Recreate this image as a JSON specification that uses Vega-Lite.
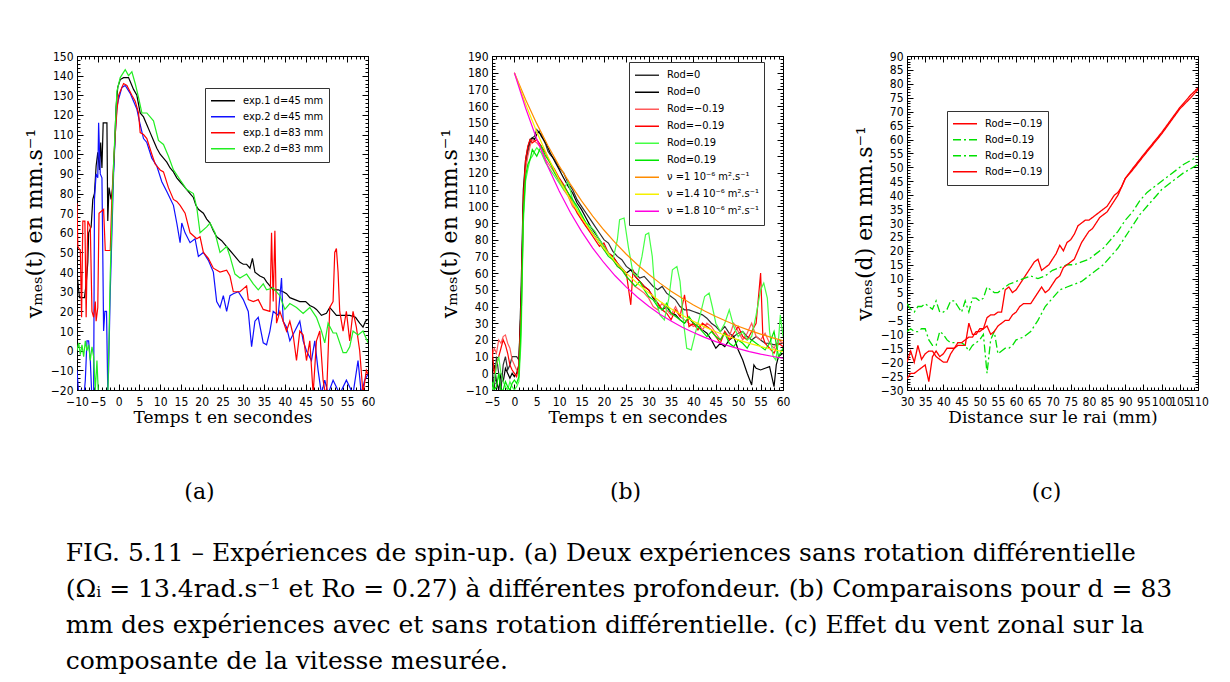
{
"$schema":"https://vega.github.io/schema/vega-lite/v6.json",
"background":"white",
"padding":{"left":22,"top":49,"right":5,"bottom":5},
"resolve":{"scale":{"color":"independent","strokeDash":"independent"},"legend":{"color":"independent","strokeDash":"independent"}},
"title":{"text":["FIG. 5.11 – Expériences de spin-up. (a) Deux expériences sans rotation différentielle","(Ωᵢ = 13.4rad.s⁻¹ et Ro = 0.27) à différentes profondeur. (b) Comparaisons pour d = 83","mm des expériences avec et sans rotation différentielle. (c) Effet du vent zonal sur la","composante de la vitesse mesurée."],"orient":"bottom","anchor":"start","frame":"bounds","font":"DejaVu Serif","fontSize":25,"fontWeight":"normal","lineHeight":36,"offset":37,"dx":43,"color":"black"},
"config":{
"view":{"stroke":"black","strokeWidth":1},
"axis":{"grid":false,"domain":false,"labelFont":"Liberation Sans Narrow, DejaVu Sans Condensed, sans-serif","labelFontSize":12,"labelColor":"black","tickColor":"black","tickWidth":1,"titleFont":"DejaVu Serif","titleFontWeight":"normal","titleColor":"black","labelOverlap":false,"labelFlush":false,"labelBound":false},
"legend":{"labelFont":"Liberation Sans Narrow, DejaVu Sans Condensed, sans-serif","labelFontSize":11,"labelColor":"black","strokeColor":"#333333","fillColor":"white","symbolType":"stroke","symbolSize":576,"symbolStrokeWidth":1.5,"rowPadding":0,"clipHeight":15.5,"padding":5,"labelOffset":7}
},
"datasets":{
"a":[
{"s":"k","t":-10,"v":39},{"s":"k","t":-9.4,"v":27},{"s":"k","t":-8.2,"v":27},{"s":"k","t":-7.8,"v":34},{"s":"k","t":-7.4,"v":45},{"s":"k","t":-7.2,"v":60},{"s":"k","t":-6.6,"v":63},{"s":"k","t":-6.2,"v":77},{"s":"k","t":-5.8,"v":80},{"s":"k","t":-5.4,"v":94},{"s":"k","t":-5,"v":101},{"s":"k","t":-4.6,"v":92},{"s":"k","t":-4.3,"v":106},{"s":"k","t":-4,"v":93},{"s":"k","t":-3.7,"v":116},{"s":"k","t":-2.8,"v":116},{"s":"k","t":-2.6,"v":66},{"s":"k","t":-2.3,"v":83},{"s":"k","t":-1.8,"v":77},{"s":"k","t":-1.4,"v":83},{"s":"k","t":-1,"v":102},{"s":"k","t":-0.6,"v":124},{"s":"k","t":-0.2,"v":134},{"s":"k","t":0.4,"v":138},{"s":"k","t":1.2,"v":139},{"s":"k","t":2.4,"v":139},{"s":"k","t":3,"v":136},{"s":"k","t":3.6,"v":133},{"s":"k","t":4.4,"v":130},{"s":"k","t":5.2,"v":121},{"s":"k","t":6,"v":119},{"s":"k","t":6.8,"v":115},{"s":"k","t":7.6,"v":111},{"s":"k","t":8.4,"v":107},{"s":"k","t":9.2,"v":103},{"s":"k","t":10,"v":100},{"s":"k","t":10.8,"v":98},{"s":"k","t":11.6,"v":96},{"s":"k","t":12.4,"v":93},{"s":"k","t":13.2,"v":91},{"s":"k","t":14,"v":88},{"s":"k","t":14.8,"v":86},{"s":"k","t":15.6,"v":84},{"s":"k","t":16.4,"v":82},{"s":"k","t":17.2,"v":80},{"s":"k","t":18,"v":78},{"s":"k","t":18.6,"v":74},{"s":"k","t":19.2,"v":72},{"s":"k","t":20.4,"v":70},{"s":"k","t":21.2,"v":67},{"s":"k","t":22,"v":65},{"s":"k","t":22.8,"v":61},{"s":"k","t":23.6,"v":58},{"s":"k","t":24.8,"v":56},{"s":"k","t":26,"v":53},{"s":"k","t":26.8,"v":51},{"s":"k","t":27.6,"v":49},{"s":"k","t":28.4,"v":47},{"s":"k","t":29.2,"v":45},{"s":"k","t":30,"v":44},{"s":"k","t":30.8,"v":44},{"s":"k","t":31.6,"v":42},{"s":"k","t":32.2,"v":47},{"s":"k","t":32.8,"v":40},{"s":"k","t":34,"v":38},{"s":"k","t":35,"v":37},{"s":"k","t":35.6,"v":35},{"s":"k","t":36.4,"v":33},{"s":"k","t":37.2,"v":31},{"s":"k","t":38.4,"v":31},{"s":"k","t":39.6,"v":30},{"s":"k","t":40.4,"v":29},{"s":"k","t":41.2,"v":27},{"s":"k","t":42.4,"v":26},{"s":"k","t":43.6,"v":25},{"s":"k","t":45,"v":25},{"s":"k","t":46,"v":23},{"s":"k","t":47,"v":22},{"s":"k","t":47.6,"v":21},{"s":"k","t":48.8,"v":18},{"s":"k","t":50,"v":19},{"s":"k","t":50.8,"v":22},{"s":"k","t":51.6,"v":20},{"s":"k","t":52.4,"v":18},{"s":"k","t":54,"v":18},{"s":"k","t":55.6,"v":18},{"s":"k","t":57,"v":17},{"s":"k","t":58,"v":14},{"s":"k","t":58.8,"v":12},{"s":"k","t":59.4,"v":15},{"s":"k","t":60,"v":16},
{"s":"b","t":-10,"v":-10},{"s":"b","t":-9.6,"v":-22},{"s":"b","t":-9,"v":-20},{"s":"b","t":-8.4,"v":-25},{"s":"b","t":-8,"v":-15},{"s":"b","t":-7.6,"v":5},{"s":"b","t":-7.2,"v":5},{"s":"b","t":-6.8,"v":-5},{"s":"b","t":-6.4,"v":-25},{"s":"b","t":-6,"v":-25},{"s":"b","t":-5.8,"v":77},{"s":"b","t":-5.4,"v":90},{"s":"b","t":-5,"v":88},{"s":"b","t":-4.8,"v":116},{"s":"b","t":-4.6,"v":102},{"s":"b","t":-4.4,"v":90},{"s":"b","t":-4,"v":88},{"s":"b","t":-3.8,"v":50},{"s":"b","t":-3.6,"v":10},{"s":"b","t":-3.3,"v":20},{"s":"b","t":-2.9,"v":20},{"s":"b","t":-2.6,"v":-20},{"s":"b","t":-2.4,"v":-10},{"s":"b","t":-2,"v":30},{"s":"b","t":-1.6,"v":60},{"s":"b","t":-1.2,"v":90},{"s":"b","t":-0.8,"v":110},{"s":"b","t":-0.4,"v":124},{"s":"b","t":0,"v":128},{"s":"b","t":0.8,"v":134},{"s":"b","t":1.6,"v":135},{"s":"b","t":2.8,"v":131},{"s":"b","t":3.6,"v":127},{"s":"b","t":4.4,"v":123},{"s":"b","t":5.2,"v":115},{"s":"b","t":6,"v":108},{"s":"b","t":6.8,"v":106},{"s":"b","t":8,"v":98},{"s":"b","t":9.2,"v":94},{"s":"b","t":10.4,"v":86},{"s":"b","t":11.6,"v":81},{"s":"b","t":13.2,"v":74},{"s":"b","t":14,"v":65},{"s":"b","t":14.8,"v":55},{"s":"b","t":15.2,"v":65},{"s":"b","t":16,"v":60},{"s":"b","t":17.2,"v":55},{"s":"b","t":18.4,"v":57},{"s":"b","t":19.2,"v":48},{"s":"b","t":20.4,"v":50},{"s":"b","t":21.6,"v":46},{"s":"b","t":22.8,"v":40},{"s":"b","t":23.6,"v":25},{"s":"b","t":24.4,"v":22},{"s":"b","t":25.2,"v":28},{"s":"b","t":26,"v":20},{"s":"b","t":26.8,"v":28},{"s":"b","t":27.6,"v":29},{"s":"b","t":28.8,"v":30},{"s":"b","t":30,"v":26},{"s":"b","t":31.2,"v":20},{"s":"b","t":32,"v":2},{"s":"b","t":32.8,"v":15},{"s":"b","t":33.6,"v":17},{"s":"b","t":34.8,"v":4},{"s":"b","t":35.6,"v":3},{"s":"b","t":36.4,"v":10},{"s":"b","t":37.2,"v":20},{"s":"b","t":38.4,"v":18},{"s":"b","t":39.2,"v":37},{"s":"b","t":39.6,"v":15},{"s":"b","t":40.4,"v":12},{"s":"b","t":41.2,"v":5},{"s":"b","t":42.4,"v":10},{"s":"b","t":43.6,"v":15},{"s":"b","t":44.4,"v":5},{"s":"b","t":45.2,"v":0},{"s":"b","t":46.4,"v":-5},{"s":"b","t":47.2,"v":5},{"s":"b","t":48,"v":-10},{"s":"b","t":48.8,"v":-22},{"s":"b","t":49.6,"v":-15},{"s":"b","t":50.4,"v":-22},{"s":"b","t":51.6,"v":-15},{"s":"b","t":53.2,"v":-22},{"s":"b","t":54.8,"v":-15},{"s":"b","t":56.4,"v":-22},{"s":"b","t":57.6,"v":-5},{"s":"b","t":58.4,"v":-22},{"s":"b","t":59.2,"v":-15},{"s":"b","t":60,"v":-12},
{"s":"r","t":-10,"v":75},{"s":"r","t":-9.8,"v":53},{"s":"r","t":-9.2,"v":51},{"s":"r","t":-8.9,"v":17},{"s":"r","t":-8.6,"v":66},{"s":"r","t":-8.1,"v":66},{"s":"r","t":-7.8,"v":17},{"s":"r","t":-7.4,"v":66},{"s":"r","t":-6.8,"v":63},{"s":"r","t":-6.4,"v":20},{"s":"r","t":-6,"v":17},{"s":"r","t":-5.6,"v":25},{"s":"r","t":-5.4,"v":15},{"s":"r","t":-5,"v":22},{"s":"r","t":-4.7,"v":70},{"s":"r","t":-3.6,"v":72},{"s":"r","t":-3.2,"v":51},{"s":"r","t":-2,"v":51},{"s":"r","t":-1.6,"v":78},{"s":"r","t":-1.2,"v":95},{"s":"r","t":-0.8,"v":110},{"s":"r","t":-0.4,"v":122},{"s":"r","t":0,"v":130},{"s":"r","t":1.2,"v":136},{"s":"r","t":2,"v":135},{"s":"r","t":3.2,"v":130},{"s":"r","t":4,"v":127},{"s":"r","t":4.8,"v":121},{"s":"r","t":5.2,"v":111},{"s":"r","t":6,"v":110},{"s":"r","t":6.8,"v":108},{"s":"r","t":8,"v":100},{"s":"r","t":8.8,"v":95},{"s":"r","t":10,"v":92},{"s":"r","t":10.8,"v":91},{"s":"r","t":12,"v":83},{"s":"r","t":13.2,"v":77},{"s":"r","t":14,"v":76},{"s":"r","t":14.8,"v":74},{"s":"r","t":16,"v":70},{"s":"r","t":17.2,"v":60},{"s":"r","t":18.8,"v":57},{"s":"r","t":19.6,"v":58},{"s":"r","t":20.4,"v":50},{"s":"r","t":21.6,"v":47},{"s":"r","t":22.8,"v":42},{"s":"r","t":24.4,"v":40},{"s":"r","t":26,"v":41},{"s":"r","t":26.8,"v":38},{"s":"r","t":27.6,"v":30},{"s":"r","t":29.2,"v":30},{"s":"r","t":30.8,"v":33},{"s":"r","t":31.2,"v":26},{"s":"r","t":32.4,"v":25},{"s":"r","t":33.6,"v":26},{"s":"r","t":34.8,"v":21},{"s":"r","t":36.4,"v":20},{"s":"r","t":36.8,"v":60},{"s":"r","t":37.2,"v":25},{"s":"r","t":37.6,"v":61},{"s":"r","t":38,"v":14},{"s":"r","t":38.8,"v":20},{"s":"r","t":39.6,"v":15},{"s":"r","t":40.4,"v":10},{"s":"r","t":41.2,"v":15},{"s":"r","t":42,"v":8},{"s":"r","t":42.8,"v":-5},{"s":"r","t":43.6,"v":10},{"s":"r","t":44.4,"v":8},{"s":"r","t":45.2,"v":-5},{"s":"r","t":46,"v":5},{"s":"r","t":46.8,"v":-22},{"s":"r","t":47.6,"v":5},{"s":"r","t":48.4,"v":10},{"s":"r","t":49.2,"v":-15},{"s":"r","t":50,"v":-25},{"s":"r","t":50.8,"v":22},{"s":"r","t":51.6,"v":25},{"s":"r","t":52,"v":50},{"s":"r","t":52.4,"v":52},{"s":"r","t":52.8,"v":40},{"s":"r","t":53.2,"v":20},{"s":"r","t":54,"v":10},{"s":"r","t":54.8,"v":20},{"s":"r","t":55.6,"v":5},{"s":"r","t":56.4,"v":20},{"s":"r","t":57.2,"v":12},{"s":"r","t":58,"v":0},{"s":"r","t":58.8,"v":-22},{"s":"r","t":59.6,"v":-10},{"s":"r","t":60,"v":-12},
{"s":"g","t":-10,"v":0},{"s":"g","t":-9.6,"v":4},{"s":"g","t":-9.2,"v":-2},{"s":"g","t":-8.8,"v":3},{"s":"g","t":-8.4,"v":-3},{"s":"g","t":-8,"v":5},{"s":"g","t":-7.6,"v":0},{"s":"g","t":-7.2,"v":3},{"s":"g","t":-6.8,"v":-5},{"s":"g","t":-6.4,"v":2},{"s":"g","t":-6,"v":-3},{"s":"g","t":-5.6,"v":-20},{"s":"g","t":-5.2,"v":-5},{"s":"g","t":-4.8,"v":-25},{"s":"g","t":-2.6,"v":-25},{"s":"g","t":-2,"v":39},{"s":"g","t":-1.2,"v":95},{"s":"g","t":-0.4,"v":132},{"s":"g","t":0.4,"v":139},{"s":"g","t":1.6,"v":143},{"s":"g","t":2.4,"v":140},{"s":"g","t":3.2,"v":142},{"s":"g","t":4,"v":136},{"s":"g","t":4.8,"v":129},{"s":"g","t":5.6,"v":121},{"s":"g","t":6.8,"v":121},{"s":"g","t":8.4,"v":117},{"s":"g","t":9.6,"v":107},{"s":"g","t":10.8,"v":105},{"s":"g","t":12,"v":99},{"s":"g","t":13.2,"v":92},{"s":"g","t":14.8,"v":87},{"s":"g","t":16.4,"v":82},{"s":"g","t":18,"v":80},{"s":"g","t":18.8,"v":73},{"s":"g","t":19.6,"v":60},{"s":"g","t":21.2,"v":63},{"s":"g","t":22,"v":65},{"s":"g","t":23.2,"v":60},{"s":"g","t":24.4,"v":50},{"s":"g","t":26,"v":53},{"s":"g","t":26.8,"v":48},{"s":"g","t":28,"v":39},{"s":"g","t":29.2,"v":37},{"s":"g","t":30.8,"v":39},{"s":"g","t":32.4,"v":34},{"s":"g","t":33.6,"v":31},{"s":"g","t":34.8,"v":34},{"s":"g","t":35.6,"v":31},{"s":"g","t":37.2,"v":32},{"s":"g","t":38.8,"v":28},{"s":"g","t":40,"v":21},{"s":"g","t":41.2,"v":24},{"s":"g","t":42.8,"v":22},{"s":"g","t":44.4,"v":19},{"s":"g","t":46,"v":22},{"s":"g","t":47.6,"v":17},{"s":"g","t":48.8,"v":10},{"s":"g","t":49.6,"v":4},{"s":"g","t":50.4,"v":14},{"s":"g","t":51.6,"v":9},{"s":"g","t":52.4,"v":9},{"s":"g","t":54,"v":-1},{"s":"g","t":54.8,"v":-1},{"s":"g","t":55.6,"v":2},{"s":"g","t":56.4,"v":10},{"s":"g","t":57.6,"v":8},{"s":"g","t":58.8,"v":10},{"s":"g","t":60,"v":4}
],
"b":[
{"s":"k1","t":-5,"v":5},{"s":"k1","t":-4.5,"v":-10},{"s":"k1","t":-4,"v":10},{"s":"k1","t":-3.5,"v":0},{"s":"k1","t":-3,"v":-10},{"s":"k1","t":-2.5,"v":5},{"s":"k1","t":-2,"v":10},{"s":"k1","t":-1.5,"v":2},{"s":"k1","t":-1,"v":5},{"s":"k1","t":-0.5,"v":10},{"s":"k1","t":0,"v":10},{"s":"k1","t":0.5,"v":10},{"s":"k1","t":1,"v":8},{"s":"k1","t":1.5,"v":40},{"s":"k1","t":2,"v":100},{"s":"k1","t":2.5,"v":125},{"s":"k1","t":3,"v":132},{"s":"k1","t":3.5,"v":138},{"s":"k1","t":4,"v":141},{"s":"k1","t":4.5,"v":142},{"s":"k1","t":5,"v":146},{"s":"k1","t":5.5,"v":144},{"s":"k1","t":6,"v":143},{"s":"k1","t":6.5,"v":140},{"s":"k1","t":7,"v":137},{"s":"k1","t":7.5,"v":133},{"s":"k1","t":8,"v":131},{"s":"k1","t":9,"v":128},{"s":"k1","t":10,"v":123},{"s":"k1","t":11,"v":120},{"s":"k1","t":12,"v":114},{"s":"k1","t":13,"v":110},{"s":"k1","t":14,"v":104},{"s":"k1","t":15,"v":100},{"s":"k1","t":16,"v":96},{"s":"k1","t":17,"v":92},{"s":"k1","t":18,"v":88},{"s":"k1","t":19,"v":84},{"s":"k1","t":20,"v":80},{"s":"k1","t":21,"v":78},{"s":"k1","t":22,"v":73},{"s":"k1","t":23,"v":70},{"s":"k1","t":24,"v":68},{"s":"k1","t":25,"v":64},{"s":"k1","t":26,"v":62},{"s":"k1","t":27,"v":60},{"s":"k1","t":28,"v":57},{"s":"k1","t":29,"v":58},{"s":"k1","t":30,"v":55},{"s":"k1","t":31,"v":52},{"s":"k1","t":32,"v":50},{"s":"k1","t":33,"v":52},{"s":"k1","t":34,"v":48},{"s":"k1","t":35,"v":46},{"s":"k1","t":36,"v":44},{"s":"k1","t":37,"v":40},{"s":"k1","t":38,"v":38},{"s":"k1","t":39,"v":38},{"s":"k1","t":40,"v":37},{"s":"k1","t":41,"v":36},{"s":"k1","t":42,"v":35},{"s":"k1","t":43,"v":33},{"s":"k1","t":44,"v":30},{"s":"k1","t":45,"v":28},{"s":"k1","t":46,"v":25},{"s":"k1","t":47,"v":28},{"s":"k1","t":48,"v":24},{"s":"k1","t":49,"v":22},{"s":"k1","t":50,"v":24},{"s":"k1","t":51,"v":25},{"s":"k1","t":52,"v":22},{"s":"k1","t":53,"v":20},{"s":"k1","t":54,"v":22},{"s":"k1","t":55,"v":20},{"s":"k1","t":56,"v":18},{"s":"k1","t":57,"v":18},{"s":"k1","t":58,"v":17},{"s":"k1","t":59,"v":18},{"s":"k1","t":60,"v":18},
{"s":"k2","t":-5,"v":0},{"s":"k2","t":-4.5,"v":5},{"s":"k2","t":-4,"v":-5},{"s":"k2","t":-3.5,"v":-10},{"s":"k2","t":-3,"v":0},{"s":"k2","t":-2.5,"v":-5},{"s":"k2","t":-2,"v":3},{"s":"k2","t":-1.5,"v":0},{"s":"k2","t":-1,"v":-3},{"s":"k2","t":-0.5,"v":0},{"s":"k2","t":0,"v":-2},{"s":"k2","t":0.5,"v":0},{"s":"k2","t":1,"v":5},{"s":"k2","t":1.5,"v":50},{"s":"k2","t":2,"v":110},{"s":"k2","t":2.5,"v":128},{"s":"k2","t":3,"v":135},{"s":"k2","t":3.5,"v":140},{"s":"k2","t":4,"v":141},{"s":"k2","t":4.5,"v":140},{"s":"k2","t":5,"v":143},{"s":"k2","t":5.5,"v":145},{"s":"k2","t":6,"v":142},{"s":"k2","t":7,"v":138},{"s":"k2","t":8,"v":132},{"s":"k2","t":9,"v":127},{"s":"k2","t":10,"v":122},{"s":"k2","t":11,"v":117},{"s":"k2","t":12,"v":112},{"s":"k2","t":13,"v":108},{"s":"k2","t":14,"v":102},{"s":"k2","t":15,"v":98},{"s":"k2","t":16,"v":93},{"s":"k2","t":17,"v":88},{"s":"k2","t":18,"v":84},{"s":"k2","t":19,"v":80},{"s":"k2","t":20,"v":76},{"s":"k2","t":21,"v":72},{"s":"k2","t":22,"v":70},{"s":"k2","t":23,"v":66},{"s":"k2","t":24,"v":63},{"s":"k2","t":25,"v":60},{"s":"k2","t":26,"v":62},{"s":"k2","t":27,"v":58},{"s":"k2","t":28,"v":55},{"s":"k2","t":29,"v":52},{"s":"k2","t":30,"v":50},{"s":"k2","t":31,"v":45},{"s":"k2","t":32,"v":42},{"s":"k2","t":33,"v":38},{"s":"k2","t":34,"v":40},{"s":"k2","t":35,"v":36},{"s":"k2","t":36,"v":35},{"s":"k2","t":37,"v":32},{"s":"k2","t":38,"v":30},{"s":"k2","t":39,"v":33},{"s":"k2","t":40,"v":30},{"s":"k2","t":41,"v":28},{"s":"k2","t":42,"v":26},{"s":"k2","t":43,"v":24},{"s":"k2","t":44,"v":20},{"s":"k2","t":45,"v":15},{"s":"k2","t":46,"v":18},{"s":"k2","t":47,"v":16},{"s":"k2","t":48,"v":20},{"s":"k2","t":49,"v":22},{"s":"k2","t":50,"v":14},{"s":"k2","t":51,"v":8},{"s":"k2","t":52,"v":0},{"s":"k2","t":53,"v":-7},{"s":"k2","t":53.5,"v":5},{"s":"k2","t":54,"v":3},{"s":"k2","t":55,"v":2},{"s":"k2","t":56,"v":3},{"s":"k2","t":57,"v":4},{"s":"k2","t":58,"v":-8},{"s":"k2","t":58.5,"v":5},{"s":"k2","t":59,"v":10},{"s":"k2","t":60,"v":12},
{"s":"r1","t":-5,"v":10},{"s":"r1","t":-4.5,"v":15},{"s":"r1","t":-4,"v":12},{"s":"r1","t":-3.5,"v":20},{"s":"r1","t":-3,"v":18},{"s":"r1","t":-2.5,"v":22},{"s":"r1","t":-2,"v":23},{"s":"r1","t":-1.5,"v":18},{"s":"r1","t":-1,"v":15},{"s":"r1","t":-0.5,"v":8},{"s":"r1","t":0,"v":5},{"s":"r1","t":0.5,"v":2},{"s":"r1","t":1,"v":0},{"s":"r1","t":1.5,"v":30},{"s":"r1","t":2,"v":95},{"s":"r1","t":2.5,"v":122},{"s":"r1","t":3,"v":130},{"s":"r1","t":3.5,"v":136},{"s":"r1","t":4,"v":140},{"s":"r1","t":4.5,"v":139},{"s":"r1","t":5,"v":138},{"s":"r1","t":6,"v":135},{"s":"r1","t":7,"v":128},{"s":"r1","t":8,"v":124},{"s":"r1","t":9,"v":120},{"s":"r1","t":10,"v":115},{"s":"r1","t":11,"v":110},{"s":"r1","t":12,"v":106},{"s":"r1","t":13,"v":100},{"s":"r1","t":14,"v":97},{"s":"r1","t":15,"v":92},{"s":"r1","t":16,"v":88},{"s":"r1","t":17,"v":85},{"s":"r1","t":18,"v":82},{"s":"r1","t":19,"v":78},{"s":"r1","t":20,"v":74},{"s":"r1","t":21,"v":72},{"s":"r1","t":22,"v":68},{"s":"r1","t":23,"v":64},{"s":"r1","t":24,"v":62},{"s":"r1","t":25,"v":58},{"s":"r1","t":26,"v":55},{"s":"r1","t":27,"v":52},{"s":"r1","t":28,"v":50},{"s":"r1","t":29,"v":48},{"s":"r1","t":30,"v":45},{"s":"r1","t":31,"v":40},{"s":"r1","t":32,"v":38},{"s":"r1","t":33,"v":42},{"s":"r1","t":34,"v":38},{"s":"r1","t":35,"v":35},{"s":"r1","t":36,"v":40},{"s":"r1","t":37,"v":34},{"s":"r1","t":38,"v":32},{"s":"r1","t":39,"v":30},{"s":"r1","t":40,"v":28},{"s":"r1","t":41,"v":30},{"s":"r1","t":42,"v":26},{"s":"r1","t":43,"v":30},{"s":"r1","t":44,"v":28},{"s":"r1","t":45,"v":24},{"s":"r1","t":46,"v":20},{"s":"r1","t":47,"v":25},{"s":"r1","t":48,"v":22},{"s":"r1","t":49,"v":30},{"s":"r1","t":50,"v":25},{"s":"r1","t":51,"v":20},{"s":"r1","t":52,"v":24},{"s":"r1","t":53,"v":30},{"s":"r1","t":54,"v":22},{"s":"r1","t":55,"v":20},{"s":"r1","t":56,"v":24},{"s":"r1","t":57,"v":18},{"s":"r1","t":58,"v":15},{"s":"r1","t":59,"v":20},{"s":"r1","t":60,"v":18},
{"s":"r2","t":-5,"v":15},{"s":"r2","t":-4.5,"v":0},{"s":"r2","t":-4,"v":5},{"s":"r2","t":-3.5,"v":10},{"s":"r2","t":-3,"v":15},{"s":"r2","t":-2.5,"v":20},{"s":"r2","t":-2,"v":17},{"s":"r2","t":-1.5,"v":12},{"s":"r2","t":-1,"v":5},{"s":"r2","t":-0.5,"v":2},{"s":"r2","t":0,"v":0},{"s":"r2","t":0.5,"v":-2},{"s":"r2","t":1,"v":5},{"s":"r2","t":1.5,"v":40},{"s":"r2","t":2,"v":105},{"s":"r2","t":2.5,"v":128},{"s":"r2","t":3,"v":136},{"s":"r2","t":3.5,"v":140},{"s":"r2","t":4,"v":138},{"s":"r2","t":4.5,"v":139},{"s":"r2","t":5,"v":140},{"s":"r2","t":6,"v":136},{"s":"r2","t":7,"v":132},{"s":"r2","t":8,"v":126},{"s":"r2","t":9,"v":122},{"s":"r2","t":10,"v":117},{"s":"r2","t":11,"v":113},{"s":"r2","t":12,"v":108},{"s":"r2","t":13,"v":102},{"s":"r2","t":14,"v":96},{"s":"r2","t":15,"v":92},{"s":"r2","t":16,"v":88},{"s":"r2","t":17,"v":84},{"s":"r2","t":18,"v":80},{"s":"r2","t":19,"v":76},{"s":"r2","t":20,"v":78},{"s":"r2","t":21,"v":72},{"s":"r2","t":22,"v":70},{"s":"r2","t":23,"v":66},{"s":"r2","t":24,"v":62},{"s":"r2","t":25,"v":60},{"s":"r2","t":26,"v":41},{"s":"r2","t":26.5,"v":62},{"s":"r2","t":27,"v":58},{"s":"r2","t":28,"v":55},{"s":"r2","t":29,"v":52},{"s":"r2","t":30,"v":50},{"s":"r2","t":31,"v":46},{"s":"r2","t":32,"v":42},{"s":"r2","t":33,"v":38},{"s":"r2","t":34,"v":36},{"s":"r2","t":35,"v":32},{"s":"r2","t":36,"v":38},{"s":"r2","t":37,"v":34},{"s":"r2","t":38,"v":47},{"s":"r2","t":39,"v":28},{"s":"r2","t":40,"v":30},{"s":"r2","t":41,"v":26},{"s":"r2","t":42,"v":30},{"s":"r2","t":43,"v":28},{"s":"r2","t":44,"v":26},{"s":"r2","t":45,"v":22},{"s":"r2","t":46,"v":18},{"s":"r2","t":47,"v":25},{"s":"r2","t":48,"v":20},{"s":"r2","t":49,"v":24},{"s":"r2","t":50,"v":28},{"s":"r2","t":51,"v":22},{"s":"r2","t":52,"v":20},{"s":"r2","t":53,"v":25},{"s":"r2","t":54,"v":30},{"s":"r2","t":55,"v":60},{"s":"r2","t":55.5,"v":22},{"s":"r2","t":56,"v":18},{"s":"r2","t":57,"v":15},{"s":"r2","t":58,"v":12},{"s":"r2","t":59,"v":18},{"s":"r2","t":60,"v":16},
{"s":"g1","t":-5,"v":-10},{"s":"g1","t":-4.5,"v":-5},{"s":"g1","t":-4,"v":5},{"s":"g1","t":-3.5,"v":10},{"s":"g1","t":-3,"v":0},{"s":"g1","t":-2.5,"v":-5},{"s":"g1","t":-2,"v":-8},{"s":"g1","t":-1.5,"v":-10},{"s":"g1","t":-1,"v":-5},{"s":"g1","t":-0.5,"v":-8},{"s":"g1","t":0,"v":-10},{"s":"g1","t":0.5,"v":-8},{"s":"g1","t":1,"v":-5},{"s":"g1","t":1.5,"v":20},{"s":"g1","t":2,"v":90},{"s":"g1","t":2.5,"v":115},{"s":"g1","t":3,"v":122},{"s":"g1","t":3.5,"v":128},{"s":"g1","t":4,"v":130},{"s":"g1","t":4.5,"v":133},{"s":"g1","t":5,"v":135},{"s":"g1","t":6,"v":132},{"s":"g1","t":7,"v":126},{"s":"g1","t":8,"v":122},{"s":"g1","t":9,"v":118},{"s":"g1","t":10,"v":114},{"s":"g1","t":11,"v":110},{"s":"g1","t":12,"v":115},{"s":"g1","t":13,"v":104},{"s":"g1","t":14,"v":98},{"s":"g1","t":15,"v":94},{"s":"g1","t":16,"v":90},{"s":"g1","t":17,"v":88},{"s":"g1","t":18,"v":85},{"s":"g1","t":19,"v":80},{"s":"g1","t":20,"v":76},{"s":"g1","t":21,"v":72},{"s":"g1","t":22,"v":68},{"s":"g1","t":23,"v":80},{"s":"g1","t":23.5,"v":92},{"s":"g1","t":24.5,"v":93},{"s":"g1","t":25.5,"v":75},{"s":"g1","t":26.5,"v":60},{"s":"g1","t":27.5,"v":58},{"s":"g1","t":28.5,"v":70},{"s":"g1","t":29.3,"v":83},{"s":"g1","t":30,"v":84},{"s":"g1","t":30.8,"v":70},{"s":"g1","t":31.5,"v":45},{"s":"g1","t":32.5,"v":35},{"s":"g1","t":33.5,"v":32},{"s":"g1","t":34.5,"v":45},{"s":"g1","t":35.3,"v":62},{"s":"g1","t":36.3,"v":64},{"s":"g1","t":37,"v":55},{"s":"g1","t":37.8,"v":30},{"s":"g1","t":38.5,"v":15},{"s":"g1","t":39.5,"v":14},{"s":"g1","t":40.5,"v":25},{"s":"g1","t":41.5,"v":35},{"s":"g1","t":42.5,"v":46},{"s":"g1","t":43.5,"v":48},{"s":"g1","t":44.2,"v":40},{"s":"g1","t":45,"v":30},{"s":"g1","t":46,"v":25},{"s":"g1","t":47,"v":30},{"s":"g1","t":48,"v":38},{"s":"g1","t":49,"v":28},{"s":"g1","t":50,"v":22},{"s":"g1","t":51,"v":25},{"s":"g1","t":52,"v":20},{"s":"g1","t":53,"v":22},{"s":"g1","t":54,"v":35},{"s":"g1","t":55,"v":50},{"s":"g1","t":55.7,"v":54},{"s":"g1","t":56.5,"v":45},{"s":"g1","t":57,"v":25},{"s":"g1","t":57.8,"v":10},{"s":"g1","t":58.4,"v":8},{"s":"g1","t":59,"v":20},{"s":"g1","t":59.4,"v":35},{"s":"g1","t":60,"v":22},
{"s":"g2","t":-5,"v":-5},{"s":"g2","t":-4.5,"v":-10},{"s":"g2","t":-4,"v":-8},{"s":"g2","t":-3.5,"v":0},{"s":"g2","t":-3,"v":-10},{"s":"g2","t":-2.5,"v":-10},{"s":"g2","t":-2,"v":-5},{"s":"g2","t":-1.5,"v":-8},{"s":"g2","t":-1,"v":-10},{"s":"g2","t":-0.5,"v":-6},{"s":"g2","t":0,"v":-4},{"s":"g2","t":0.5,"v":-6},{"s":"g2","t":1,"v":-2},{"s":"g2","t":1.5,"v":30},{"s":"g2","t":2,"v":95},{"s":"g2","t":2.5,"v":118},{"s":"g2","t":3,"v":125},{"s":"g2","t":3.5,"v":128},{"s":"g2","t":4,"v":134},{"s":"g2","t":4.5,"v":132},{"s":"g2","t":5,"v":130},{"s":"g2","t":6,"v":136},{"s":"g2","t":7,"v":130},{"s":"g2","t":8,"v":126},{"s":"g2","t":9,"v":120},{"s":"g2","t":10,"v":116},{"s":"g2","t":11,"v":112},{"s":"g2","t":12,"v":108},{"s":"g2","t":13,"v":104},{"s":"g2","t":14,"v":100},{"s":"g2","t":15,"v":95},{"s":"g2","t":16,"v":90},{"s":"g2","t":17,"v":86},{"s":"g2","t":18,"v":82},{"s":"g2","t":19,"v":78},{"s":"g2","t":20,"v":74},{"s":"g2","t":21,"v":70},{"s":"g2","t":22,"v":68},{"s":"g2","t":23,"v":64},{"s":"g2","t":24,"v":62},{"s":"g2","t":25,"v":58},{"s":"g2","t":26,"v":55},{"s":"g2","t":27,"v":52},{"s":"g2","t":28,"v":55},{"s":"g2","t":29,"v":50},{"s":"g2","t":30,"v":46},{"s":"g2","t":31,"v":44},{"s":"g2","t":32,"v":40},{"s":"g2","t":33,"v":38},{"s":"g2","t":34,"v":42},{"s":"g2","t":35,"v":36},{"s":"g2","t":36,"v":34},{"s":"g2","t":37,"v":32},{"s":"g2","t":38,"v":30},{"s":"g2","t":39,"v":34},{"s":"g2","t":40,"v":30},{"s":"g2","t":41,"v":28},{"s":"g2","t":42,"v":25},{"s":"g2","t":43,"v":22},{"s":"g2","t":44,"v":25},{"s":"g2","t":45,"v":22},{"s":"g2","t":46,"v":20},{"s":"g2","t":47,"v":24},{"s":"g2","t":48,"v":18},{"s":"g2","t":49,"v":16},{"s":"g2","t":50,"v":20},{"s":"g2","t":51,"v":18},{"s":"g2","t":52,"v":15},{"s":"g2","t":53,"v":20},{"s":"g2","t":54,"v":18},{"s":"g2","t":55,"v":16},{"s":"g2","t":56,"v":14},{"s":"g2","t":57,"v":18},{"s":"g2","t":58,"v":25},{"s":"g2","t":59,"v":10},{"s":"g2","t":60,"v":15},
{"s":"o","t":0,"v":180},{"s":"o","t":2.5,"v":164},{"s":"o","t":5,"v":149.5},{"s":"o","t":7.5,"v":136.3},{"s":"o","t":10,"v":124.2},{"s":"o","t":12.5,"v":113.3},{"s":"o","t":15,"v":103.3},{"s":"o","t":17.5,"v":94.1},{"s":"o","t":20,"v":85.8},{"s":"o","t":22.5,"v":78.2},{"s":"o","t":25,"v":71.3},{"s":"o","t":27.5,"v":65},{"s":"o","t":30,"v":59.3},{"s":"o","t":32.5,"v":54},{"s":"o","t":35,"v":49.2},{"s":"o","t":37.5,"v":44.9},{"s":"o","t":40,"v":40.9},{"s":"o","t":42.5,"v":37.3},{"s":"o","t":45,"v":34},{"s":"o","t":47.5,"v":31},{"s":"o","t":50,"v":28.2},{"s":"o","t":52.5,"v":25.7},{"s":"o","t":55,"v":23.5},{"s":"o","t":57.5,"v":21.4},{"s":"o","t":60,"v":19.5},
{"s":"y","t":0,"v":180},{"s":"y","t":2.5,"v":161.3},{"s":"y","t":5,"v":144.5},{"s":"y","t":7.5,"v":129.5},{"s":"y","t":10,"v":116},{"s":"y","t":12.5,"v":104},{"s":"y","t":15,"v":93.2},{"s":"y","t":17.5,"v":83.5},{"s":"y","t":20,"v":74.8},{"s":"y","t":22.5,"v":67},{"s":"y","t":25,"v":60},{"s":"y","t":27.5,"v":53.8},{"s":"y","t":30,"v":48.2},{"s":"y","t":32.5,"v":43.2},{"s":"y","t":35,"v":38.7},{"s":"y","t":37.5,"v":34.7},{"s":"y","t":40,"v":31.1},{"s":"y","t":42.5,"v":27.8},{"s":"y","t":45,"v":24.9},{"s":"y","t":47.5,"v":22.3},{"s":"y","t":50,"v":20},{"s":"y","t":52.5,"v":17.9},{"s":"y","t":55,"v":16.1},{"s":"y","t":57.5,"v":14.4},{"s":"y","t":60,"v":12.9},
{"s":"m","t":0,"v":180},{"s":"m","t":2.5,"v":158.9},{"s":"m","t":5,"v":140.2},{"s":"m","t":7.5,"v":123.7},{"s":"m","t":10,"v":109.2},{"s":"m","t":12.5,"v":96.3},{"s":"m","t":15,"v":85},{"s":"m","t":17.5,"v":75},{"s":"m","t":20,"v":66.2},{"s":"m","t":22.5,"v":58.4},{"s":"m","t":25,"v":51.6},{"s":"m","t":27.5,"v":45.5},{"s":"m","t":30,"v":40.2},{"s":"m","t":32.5,"v":35.4},{"s":"m","t":35,"v":31.3},{"s":"m","t":37.5,"v":27.6},{"s":"m","t":40,"v":24.4},{"s":"m","t":42.5,"v":21.5},{"s":"m","t":45,"v":19},{"s":"m","t":47.5,"v":16.7},{"s":"m","t":50,"v":14.8},{"s":"m","t":52.5,"v":13},{"s":"m","t":55,"v":11.5},{"s":"m","t":57.5,"v":10.2},{"s":"m","t":60,"v":9}
],
"c":[
{"s":"R1","t":30,"v":-20},{"s":"R1","t":31,"v":-16},{"s":"R1","t":32,"v":-20},{"s":"R1","t":33,"v":-14},{"s":"R1","t":34,"v":-19},{"s":"R1","t":35,"v":-17},{"s":"R1","t":36,"v":-16},{"s":"R1","t":37,"v":-16},{"s":"R1","t":38,"v":-18},{"s":"R1","t":39,"v":-19},{"s":"R1","t":40,"v":-20},{"s":"R1","t":41,"v":-20},{"s":"R1","t":42,"v":-17},{"s":"R1","t":43,"v":-15},{"s":"R1","t":44,"v":-14},{"s":"R1","t":45,"v":-14},{"s":"R1","t":46,"v":-14},{"s":"R1","t":47,"v":-6},{"s":"R1","t":48,"v":-10},{"s":"R1","t":49,"v":-10},{"s":"R1","t":50,"v":-8},{"s":"R1","t":51,"v":-8},{"s":"R1","t":52,"v":-4},{"s":"R1","t":53,"v":-3},{"s":"R1","t":54,"v":-3},{"s":"R1","t":55,"v":-2},{"s":"R1","t":56,"v":-2},{"s":"R1","t":57,"v":6},{"s":"R1","t":58,"v":7},{"s":"R1","t":59,"v":5},{"s":"R1","t":60,"v":6},{"s":"R1","t":61,"v":8},{"s":"R1","t":62,"v":10},{"s":"R1","t":63,"v":12},{"s":"R1","t":64,"v":14},{"s":"R1","t":65,"v":16},{"s":"R1","t":66,"v":17},{"s":"R1","t":67,"v":13},{"s":"R1","t":68,"v":14},{"s":"R1","t":69,"v":15},{"s":"R1","t":70,"v":17},{"s":"R1","t":71,"v":19},{"s":"R1","t":72,"v":22},{"s":"R1","t":73,"v":20},{"s":"R1","t":74,"v":23},{"s":"R1","t":75,"v":24},{"s":"R1","t":76,"v":26},{"s":"R1","t":77,"v":29},{"s":"R1","t":78,"v":30},{"s":"R1","t":79,"v":31},{"s":"R1","t":80,"v":31},{"s":"R1","t":81,"v":32},{"s":"R1","t":82,"v":33},{"s":"R1","t":83,"v":34},{"s":"R1","t":84,"v":35},{"s":"R1","t":85,"v":36},{"s":"R1","t":86,"v":38},{"s":"R1","t":87,"v":40},{"s":"R1","t":88,"v":41},{"s":"R1","t":89,"v":43},{"s":"R1","t":90,"v":46},{"s":"R1","t":92,"v":49},{"s":"R1","t":95,"v":54},{"s":"R1","t":100,"v":62},{"s":"R1","t":105,"v":71},{"s":"R1","t":108,"v":75},{"s":"R1","t":110,"v":78},
{"s":"G1","t":30,"v":1},{"s":"G1","t":31,"v":-1},{"s":"G1","t":32,"v":-2},{"s":"G1","t":33,"v":0},{"s":"G1","t":34,"v":0},{"s":"G1","t":35,"v":1},{"s":"G1","t":36,"v":0},{"s":"G1","t":37,"v":-1},{"s":"G1","t":38,"v":2},{"s":"G1","t":39,"v":-2},{"s":"G1","t":40,"v":-2},{"s":"G1","t":41,"v":-1},{"s":"G1","t":42,"v":2},{"s":"G1","t":43,"v":2},{"s":"G1","t":44,"v":0},{"s":"G1","t":45,"v":-2},{"s":"G1","t":46,"v":2},{"s":"G1","t":47,"v":-2},{"s":"G1","t":48,"v":3},{"s":"G1","t":49,"v":3},{"s":"G1","t":50,"v":2},{"s":"G1","t":51,"v":3},{"s":"G1","t":52,"v":7},{"s":"G1","t":53,"v":6},{"s":"G1","t":54,"v":5},{"s":"G1","t":55,"v":5},{"s":"G1","t":56,"v":6},{"s":"G1","t":57,"v":7},{"s":"G1","t":58,"v":8},{"s":"G1","t":60,"v":9},{"s":"G1","t":62,"v":10},{"s":"G1","t":64,"v":11},{"s":"G1","t":66,"v":10},{"s":"G1","t":68,"v":11},{"s":"G1","t":70,"v":13},{"s":"G1","t":72,"v":14},{"s":"G1","t":74,"v":15},{"s":"G1","t":76,"v":15},{"s":"G1","t":78,"v":16},{"s":"G1","t":80,"v":17},{"s":"G1","t":82,"v":19},{"s":"G1","t":84,"v":21},{"s":"G1","t":86,"v":24},{"s":"G1","t":88,"v":27},{"s":"G1","t":90,"v":31},{"s":"G1","t":92,"v":34},{"s":"G1","t":94,"v":38},{"s":"G1","t":96,"v":41},{"s":"G1","t":98,"v":43},{"s":"G1","t":100,"v":45},{"s":"G1","t":102,"v":47},{"s":"G1","t":104,"v":49},{"s":"G1","t":106,"v":51},{"s":"G1","t":108,"v":52.5},{"s":"G1","t":110,"v":54},
{"s":"G2","t":30,"v":-9},{"s":"G2","t":31,"v":-8},{"s":"G2","t":32,"v":-9},{"s":"G2","t":33,"v":-9},{"s":"G2","t":34,"v":-8},{"s":"G2","t":35,"v":-8},{"s":"G2","t":36,"v":-12},{"s":"G2","t":37,"v":-14},{"s":"G2","t":38,"v":-14},{"s":"G2","t":39,"v":-9},{"s":"G2","t":40,"v":-10},{"s":"G2","t":41,"v":-12},{"s":"G2","t":42,"v":-13},{"s":"G2","t":43,"v":-13},{"s":"G2","t":44,"v":-13},{"s":"G2","t":45,"v":-13},{"s":"G2","t":46,"v":-14},{"s":"G2","t":47,"v":-16},{"s":"G2","t":48,"v":-14},{"s":"G2","t":49,"v":-13},{"s":"G2","t":50,"v":-12},{"s":"G2","t":51,"v":-10},{"s":"G2","t":52,"v":-24},{"s":"G2","t":53,"v":-12},{"s":"G2","t":54,"v":-9},{"s":"G2","t":55,"v":-17},{"s":"G2","t":56,"v":-16},{"s":"G2","t":57,"v":-15},{"s":"G2","t":58,"v":-15},{"s":"G2","t":59,"v":-14},{"s":"G2","t":60,"v":-12},{"s":"G2","t":62,"v":-11},{"s":"G2","t":64,"v":-9},{"s":"G2","t":66,"v":-5},{"s":"G2","t":68,"v":0},{"s":"G2","t":70,"v":3},{"s":"G2","t":72,"v":6},{"s":"G2","t":74,"v":7},{"s":"G2","t":76,"v":8},{"s":"G2","t":78,"v":9},{"s":"G2","t":80,"v":11},{"s":"G2","t":82,"v":13},{"s":"G2","t":84,"v":15},{"s":"G2","t":86,"v":18},{"s":"G2","t":88,"v":21},{"s":"G2","t":90,"v":25},{"s":"G2","t":92,"v":29},{"s":"G2","t":94,"v":33},{"s":"G2","t":96,"v":36},{"s":"G2","t":98,"v":39},{"s":"G2","t":100,"v":42},{"s":"G2","t":102,"v":44},{"s":"G2","t":104,"v":46},{"s":"G2","t":106,"v":48},{"s":"G2","t":108,"v":49.5},{"s":"G2","t":110,"v":51},
{"s":"R2","t":30,"v":-26},{"s":"R2","t":31,"v":-24},{"s":"R2","t":32,"v":-24},{"s":"R2","t":33,"v":-23},{"s":"R2","t":34,"v":-22},{"s":"R2","t":35,"v":-21},{"s":"R2","t":36,"v":-27},{"s":"R2","t":37,"v":-18},{"s":"R2","t":38,"v":-16},{"s":"R2","t":39,"v":-18},{"s":"R2","t":40,"v":-17},{"s":"R2","t":41,"v":-15},{"s":"R2","t":42,"v":-15},{"s":"R2","t":43,"v":-15},{"s":"R2","t":44,"v":-13},{"s":"R2","t":45,"v":-13},{"s":"R2","t":46,"v":-12},{"s":"R2","t":47,"v":-11},{"s":"R2","t":48,"v":-11},{"s":"R2","t":49,"v":-9},{"s":"R2","t":50,"v":-9},{"s":"R2","t":51,"v":-8},{"s":"R2","t":52,"v":-7},{"s":"R2","t":53,"v":-10},{"s":"R2","t":54,"v":-9},{"s":"R2","t":55,"v":-7},{"s":"R2","t":56,"v":-6},{"s":"R2","t":57,"v":-5},{"s":"R2","t":58,"v":-5},{"s":"R2","t":59,"v":-3},{"s":"R2","t":60,"v":-2},{"s":"R2","t":61,"v":0},{"s":"R2","t":62,"v":1},{"s":"R2","t":63,"v":1},{"s":"R2","t":64,"v":1},{"s":"R2","t":65,"v":3},{"s":"R2","t":66,"v":5},{"s":"R2","t":67,"v":7},{"s":"R2","t":68,"v":5},{"s":"R2","t":69,"v":6},{"s":"R2","t":70,"v":8},{"s":"R2","t":71,"v":10},{"s":"R2","t":72,"v":11},{"s":"R2","t":73,"v":14},{"s":"R2","t":74,"v":15},{"s":"R2","t":75,"v":16},{"s":"R2","t":76,"v":17},{"s":"R2","t":77,"v":20},{"s":"R2","t":78,"v":23},{"s":"R2","t":79,"v":25},{"s":"R2","t":80,"v":27},{"s":"R2","t":81,"v":28},{"s":"R2","t":82,"v":30},{"s":"R2","t":83,"v":32},{"s":"R2","t":84,"v":33},{"s":"R2","t":85,"v":34},{"s":"R2","t":86,"v":36},{"s":"R2","t":87,"v":38},{"s":"R2","t":88,"v":40},{"s":"R2","t":89,"v":43},{"s":"R2","t":90,"v":46},{"s":"R2","t":92,"v":49.5},{"s":"R2","t":95,"v":54.5},{"s":"R2","t":100,"v":62.5},{"s":"R2","t":105,"v":71.5},{"s":"R2","t":108,"v":76},{"s":"R2","t":110,"v":78.5}
]
},
"spacing":61,
"hconcat":[
{
"width":291,"height":334,
"title":{"text":"(a)","orient":"bottom","anchor":"middle","frame":"group","offset":57,"dx":-23,"font":"DejaVu Serif","fontSize":22,"fontWeight":"normal","color":"black"},
"resolve":{"axis":{"x":"independent","y":"independent"}},
"layer":[
{"data":{"name":"a"},"mark":{"type":"line","strokeWidth":1.2,"clip":true},
"encoding":{
"x":{"field":"t","type":"quantitative","scale":{"domain":[-10,60],"nice":false,"zero":false},"axis":{"orient":"bottom","values":[-10,-5,0,5,10,15,20,25,30,35,40,45,50,55,60],"ticks":false,"labelPadding":6,"title":"Temps t en secondes","titleFontSize":17,"titlePadding":2}},
"y":{"field":"v","type":"quantitative","scale":{"domain":[-20,150],"nice":false,"zero":false},"axis":{"orient":"left","values":[-20,-10,0,10,20,30,40,50,60,70,80,90,100,110,120,130,140,150],"ticks":false,"labelPadding":4,"title":"vₘₑₛ(t) en mm.s⁻¹","titleFontSize":22,"titlePadding":4}},
"color":{"field":"s","type":"nominal","scale":{"domain":["k","b","r","g"],"range":["#000000","#1010ff","#ff0000","#22ee22"]},"legend":{"orient":"none","legendX":128,"legendY":32,"title":null,"labelExpr":"datum.value=='k'?'exp.1 d=45 mm':datum.value=='b'?'exp.2 d=45 mm':datum.value=='r'?'exp.1 d=83 mm':'exp.2 d=83 mm'"}}
}},
{"data":{"values":[{"t":0,"v":0}]},"mark":{"type":"point","opacity":0},"encoding":{"x":{"field":"t","type":"quantitative","scale":{"domain":[-10,60],"nice":false,"zero":false},"axis":{"orient":"top","offset":-334,"tickCount":14,"labels":false,"tickSize":6,"title":null}},"y":{"field":"v","type":"quantitative","scale":{"domain":[-20,150],"nice":false,"zero":false},"axis":{"orient":"right","offset":-291,"tickCount":17,"labels":false,"tickSize":6,"title":null}}}},
{"data":{"values":[{"t":0,"v":0}]},"mark":{"type":"point","opacity":0},"encoding":{"x":{"field":"t","type":"quantitative","scale":{"domain":[-10,60],"nice":false,"zero":false},"axis":{"orient":"top","offset":-334,"tickCount":70,"labels":false,"tickSize":3,"title":null}},"y":{"field":"v","type":"quantitative","scale":{"domain":[-20,150],"nice":false,"zero":false},"axis":{"orient":"right","offset":-291,"tickCount":85,"labels":false,"tickSize":3,"title":null}}}},
{"data":{"values":[{"t":0,"v":0}]},"mark":{"type":"point","opacity":0},"encoding":{"x":{"field":"t","type":"quantitative","scale":{"domain":[-10,60],"nice":false,"zero":false},"axis":{"orient":"bottom","offset":-334,"tickCount":14,"labels":false,"tickSize":6,"title":null}},"y":{"field":"v","type":"quantitative","scale":{"domain":[-20,150],"nice":false,"zero":false},"axis":{"orient":"left","offset":-291,"tickCount":17,"labels":false,"tickSize":6,"title":null}}}},
{"data":{"values":[{"t":0,"v":0}]},"mark":{"type":"point","opacity":0},"encoding":{"x":{"field":"t","type":"quantitative","scale":{"domain":[-10,60],"nice":false,"zero":false},"axis":{"orient":"bottom","offset":-334,"tickCount":70,"labels":false,"tickSize":3,"title":null}},"y":{"field":"v","type":"quantitative","scale":{"domain":[-20,150],"nice":false,"zero":false},"axis":{"orient":"left","offset":-291,"tickCount":85,"labels":false,"tickSize":3,"title":null}}}}
]
},
{
"width":291,"height":334,
"title":{"text":"(b)","orient":"bottom","anchor":"middle","frame":"group","offset":57,"dx":-12,"font":"DejaVu Serif","fontSize":22,"fontWeight":"normal","color":"black"},
"resolve":{"axis":{"x":"independent","y":"independent"}},
"layer":[
{"data":{"name":"b"},"mark":{"type":"line","strokeWidth":1.2,"clip":true},
"encoding":{
"x":{"field":"t","type":"quantitative","scale":{"domain":[-5,60],"nice":false,"zero":false},"axis":{"orient":"bottom","values":[-5,0,5,10,15,20,25,30,35,40,45,50,55,60],"ticks":false,"labelPadding":6,"title":"Temps t en secondes","titleFontSize":17,"titlePadding":2}},
"y":{"field":"v","type":"quantitative","scale":{"domain":[-10,190],"nice":false,"zero":false},"axis":{"orient":"left","values":[-10,0,10,20,30,40,50,60,70,80,90,100,110,120,130,140,150,160,170,180,190],"ticks":false,"labelPadding":4,"title":"vₘₑₛ(t) en mm.s⁻¹","titleFontSize":22,"titlePadding":4}},
"color":{"field":"s","type":"nominal","scale":{"domain":["k1","k2","r1","r2","g1","g2","o","y","m"],"range":["#303030","#000000","#ff5a5a","#ff0000","#44ff44","#00e600","#ff8c00","#f5f000","#ff00e0"]},"legend":{"orient":"none","legendX":137,"legendY":6,"title":null,"clipHeight":16.4,"labelExpr":"datum.value=='k1'||datum.value=='k2'?'Rod=0':datum.value=='r1'||datum.value=='r2'?'Rod=−0.19':datum.value=='g1'||datum.value=='g2'?'Rod=0.19':datum.value=='o'?'ν =1 10⁻⁶ m².s⁻¹':datum.value=='y'?'ν =1.4 10⁻⁶ m².s⁻¹':'ν =1.8 10⁻⁶ m².s⁻¹'"}}
}},
{"data":{"values":[{"t":0,"v":0}]},"mark":{"type":"point","opacity":0},"encoding":{"x":{"field":"t","type":"quantitative","scale":{"domain":[-5,60],"nice":false,"zero":false},"axis":{"orient":"top","offset":-334,"tickCount":13,"labels":false,"tickSize":6,"title":null}},"y":{"field":"v","type":"quantitative","scale":{"domain":[-10,190],"nice":false,"zero":false},"axis":{"orient":"right","offset":-291,"tickCount":20,"labels":false,"tickSize":6,"title":null}}}},
{"data":{"values":[{"t":0,"v":0}]},"mark":{"type":"point","opacity":0},"encoding":{"x":{"field":"t","type":"quantitative","scale":{"domain":[-5,60],"nice":false,"zero":false},"axis":{"orient":"top","offset":-334,"tickCount":65,"labels":false,"tickSize":3,"title":null}},"y":{"field":"v","type":"quantitative","scale":{"domain":[-10,190],"nice":false,"zero":false},"axis":{"orient":"right","offset":-291,"tickCount":100,"labels":false,"tickSize":3,"title":null}}}},
{"data":{"values":[{"t":0,"v":0}]},"mark":{"type":"point","opacity":0},"encoding":{"x":{"field":"t","type":"quantitative","scale":{"domain":[-5,60],"nice":false,"zero":false},"axis":{"orient":"bottom","offset":-334,"tickCount":13,"labels":false,"tickSize":6,"title":null}},"y":{"field":"v","type":"quantitative","scale":{"domain":[-10,190],"nice":false,"zero":false},"axis":{"orient":"left","offset":-291,"tickCount":20,"labels":false,"tickSize":6,"title":null}}}},
{"data":{"values":[{"t":0,"v":0}]},"mark":{"type":"point","opacity":0},"encoding":{"x":{"field":"t","type":"quantitative","scale":{"domain":[-5,60],"nice":false,"zero":false},"axis":{"orient":"bottom","offset":-334,"tickCount":65,"labels":false,"tickSize":3,"title":null}},"y":{"field":"v","type":"quantitative","scale":{"domain":[-10,190],"nice":false,"zero":false},"axis":{"orient":"left","offset":-291,"tickCount":100,"labels":false,"tickSize":3,"title":null}}}}
]
},
{
"width":291,"height":334,
"title":{"text":"(c)","orient":"bottom","anchor":"middle","frame":"group","offset":57,"dx":-6,"font":"DejaVu Serif","fontSize":22,"fontWeight":"normal","color":"black"},
"resolve":{"axis":{"x":"independent","y":"independent"}},
"layer":[
{"data":{"name":"c"},"mark":{"type":"line","strokeWidth":1.3,"clip":true},
"encoding":{
"x":{"field":"t","type":"quantitative","scale":{"domain":[30,110],"nice":false,"zero":false},"axis":{"orient":"bottom","values":[30,35,40,45,50,55,60,65,70,75,80,85,90,95,100,105,110],"ticks":false,"labelPadding":6,"title":"Distance sur le rai (mm)","titleFontSize":17,"titlePadding":2}},
"y":{"field":"v","type":"quantitative","scale":{"domain":[-30,90],"nice":false,"zero":false},"axis":{"orient":"left","values":[-30,-25,-20,-15,-10,-5,0,5,10,15,20,25,30,35,40,45,50,55,60,65,70,75,80,85,90],"ticks":false,"labelPadding":4,"title":"vₘₑₛ(d) en mm.s⁻¹","titleFontSize":22,"titlePadding":4}},
"color":{"field":"s","type":"nominal","scale":{"domain":["R1","G1","G2","R2"],"range":["#ff0000","#00e000","#00e000","#ff0000"]},"legend":{"orient":"none","legendX":40,"legendY":55,"title":null,"labelExpr":"datum.value=='R1'||datum.value=='R2'?'Rod=−0.19':'Rod=0.19'"}},
"strokeDash":{"field":"s","type":"nominal","scale":{"domain":["R1","G1","G2","R2"],"range":[[1,0],[8,3,2,3],[8,3,2,3],[1,0]]},"legend":{"orient":"none","legendX":40,"legendY":55,"title":null,"labelExpr":"datum.value=='R1'||datum.value=='R2'?'Rod=−0.19':'Rod=0.19'"}}
}},
{"data":{"values":[{"t":50,"v":0}]},"mark":{"type":"point","opacity":0},"encoding":{"x":{"field":"t","type":"quantitative","scale":{"domain":[30,110],"nice":false,"zero":false},"axis":{"orient":"top","offset":-334,"tickCount":16,"labels":false,"tickSize":6,"title":null}},"y":{"field":"v","type":"quantitative","scale":{"domain":[-30,90],"nice":false,"zero":false},"axis":{"orient":"right","offset":-291,"tickCount":24,"labels":false,"tickSize":6,"title":null}}}},
{"data":{"values":[{"t":50,"v":0}]},"mark":{"type":"point","opacity":0},"encoding":{"x":{"field":"t","type":"quantitative","scale":{"domain":[30,110],"nice":false,"zero":false},"axis":{"orient":"top","offset":-334,"tickCount":80,"labels":false,"tickSize":3,"title":null}},"y":{"field":"v","type":"quantitative","scale":{"domain":[-30,90],"nice":false,"zero":false},"axis":{"orient":"right","offset":-291,"tickCount":120,"labels":false,"tickSize":3,"title":null}}}},
{"data":{"values":[{"t":50,"v":0}]},"mark":{"type":"point","opacity":0},"encoding":{"x":{"field":"t","type":"quantitative","scale":{"domain":[30,110],"nice":false,"zero":false},"axis":{"orient":"bottom","offset":-334,"tickCount":16,"labels":false,"tickSize":6,"title":null}},"y":{"field":"v","type":"quantitative","scale":{"domain":[-30,90],"nice":false,"zero":false},"axis":{"orient":"left","offset":-291,"tickCount":24,"labels":false,"tickSize":6,"title":null}}}},
{"data":{"values":[{"t":50,"v":0}]},"mark":{"type":"point","opacity":0},"encoding":{"x":{"field":"t","type":"quantitative","scale":{"domain":[30,110],"nice":false,"zero":false},"axis":{"orient":"bottom","offset":-334,"tickCount":80,"labels":false,"tickSize":3,"title":null}},"y":{"field":"v","type":"quantitative","scale":{"domain":[-30,90],"nice":false,"zero":false},"axis":{"orient":"left","offset":-291,"tickCount":120,"labels":false,"tickSize":3,"title":null}}}}
]
}
]
}
